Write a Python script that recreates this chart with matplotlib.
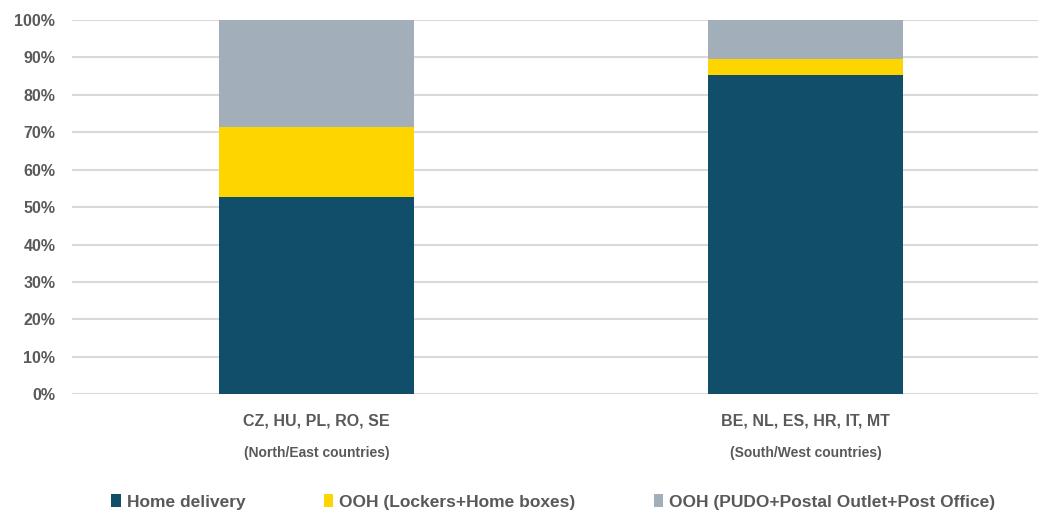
import matplotlib
matplotlib.use("Agg")
import matplotlib.pyplot as plt
import numpy as np
from matplotlib.patches import Patch
from matplotlib.ticker import PercentFormatter

groups = ["CZ, HU, PL, RO, SE", "BE, NL, ES, HR, IT, MT"]
subtitles = ["(North/East countries)", "(South/West countries)"]
series = [
    "Home delivery",
    "OOH (Lockers+Home boxes)",
    "OOH (PUDO+Postal Outlet+Post Office)",
]
home = [52.6, 85.2]
lockers = [18.9, 4.4]
pudo = [28.5, 10.4]
colors = ["#104E69", "#FFD500", "#A2AEB9"]

TEXT = "#595959"
FONT = ["Liberation Sans", "DejaVu Sans"]

fig = plt.figure(figsize=(10.38, 5.11), dpi=100)
ax = fig.add_axes([72 / 1038, 1 - 394.3 / 511, 978 / 1038, 374.3 / 511])

x = np.arange(len(groups))
bottom = np.zeros(len(groups))
for vals, col, name in zip([home, lockers, pudo], colors, series):
    ax.bar(x, vals, width=0.4, bottom=bottom, color=col, label=name, zorder=3)
    bottom += np.array(vals)

ax.set_xlim(-0.5, 1.5)
ax.set_ylim(0, 100)
ax.set_yticks(np.arange(0, 101, 10))
ax.yaxis.set_major_formatter(PercentFormatter(decimals=0))
ax.grid(axis="y", color="#D9D9D9", linewidth=1.5, zorder=0)
for s in ax.spines.values():
    s.set_visible(False)
ax.tick_params(length=0)
ax.tick_params(axis="y", labelsize=11.5, labelcolor=TEXT, pad=12)
for lab in ax.get_yticklabels():
    lab.set_fontweight("bold")
    lab.set_family(FONT)

ax.set_xticks(x)
ax.set_xticklabels(groups, fontsize=11.5, fontweight="bold", color=TEXT, family=FONT)
ax.tick_params(axis="x", pad=14)

for xi, sub in zip(x, subtitles):
    ax.annotate(sub, xy=(xi, 0), xycoords=("data", "axes fraction"),
                xytext=(0, -42), textcoords="offset points",
                ha="center", va="center", fontsize=10, fontweight="bold",
                color=TEXT, family=FONT)

handles = [Patch(facecolor=c, edgecolor="none") for c in colors]
leg = fig.legend(handles, series, loc="center", bbox_to_anchor=(0.533, 1 - 502 / 511),
                 ncol=3, frameon=False, handlelength=0.55,
                 handleheight=0.75, handletextpad=0.35, columnspacing=4.5,
                 prop={"family": FONT, "weight": "bold", "size": 12.5})
for t in leg.get_texts():
    t.set_color(TEXT)

fig.savefig("out.png", dpi=100)
